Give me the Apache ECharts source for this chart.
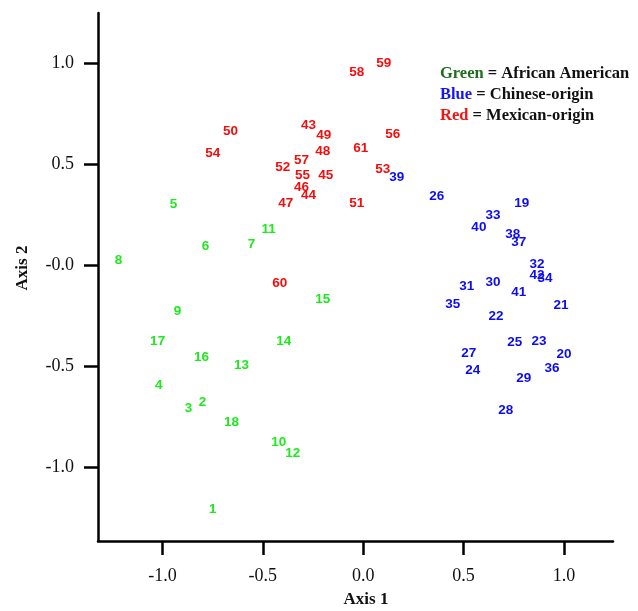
<!DOCTYPE html>
<html>
<head>
<meta charset="utf-8">
<script src="https://cdn.jsdelivr.net/npm/echarts@6/dist/echarts.min.js"></script>
<style>html,body{margin:0;padding:0;background:#fff}#c{width:638px;height:611px}</style>
</head>
<body>
<div id="c"></div>
<script>
// ---- data ----
const africanIds = [1,2,3,4,5,6,7,8,9,10,11,12,13,14,15,16,17,18];
const africanPoints = [
  [-0.750,-1.211],[-0.800,-0.679],[-0.870,-0.709],[-1.019,-0.595],[-0.945,0.300],
  [-0.785,0.096],[-0.556,0.106],[-1.219,0.026],[-0.925,-0.227],[-0.421,-0.878],
  [-0.471,0.180],[-0.351,-0.932],[-0.606,-0.495],[-0.396,-0.376],[-0.202,-0.167],
  [-0.805,-0.456],[-1.024,-0.376],[-0.656,-0.778]
];
const chineseIds = [19,20,21,22,23,24,25,26,27,28,29,30,31,32,33,34,35,36,37,38,39,40,41,42];
const chinesePoints = [
  [0.790,0.309],[1.000,-0.441],[0.985,-0.197],[0.661,-0.252],[0.875,-0.376],
  [0.546,-0.520],[0.755,-0.381],[0.366,0.344],[0.526,-0.436],[0.710,-0.719],
  [0.800,-0.560],[0.646,-0.083],[0.516,-0.103],[0.865,0.006],[0.646,0.250],
  [0.905,-0.063],[0.446,-0.192],[0.940,-0.510],[0.775,0.116],[0.745,0.155],
  [0.167,0.434],[0.576,0.190],[0.775,-0.133],[0.865,-0.048]
];
const mexicanIds = [43,44,45,46,47,48,49,50,51,52,53,54,55,56,57,58,59,60,61];
const mexicanPoints = [
  [-0.272,0.692],[-0.272,0.349],[-0.187,0.444],[-0.307,0.389],[-0.386,0.309],
  [-0.202,0.563],[-0.197,0.642],[-0.661,0.662],[-0.032,0.309],[-0.401,0.488],
  [0.097,0.478],[-0.750,0.553],[-0.302,0.444],[0.147,0.647],[-0.307,0.518],
  [-0.032,0.955],[0.102,1.000],[-0.416,-0.088],[-0.012,0.578]
];
const xTicks = [-1, -0.5, 0, 0.5, 1];
const xTickLabels = ['-1.0','-0.5','0.0','0.5','1.0'];
const yTicks = [-1, -0.5, 0, 0.5, 1];
const yTickLabels = ['-1.0','-0.5','-0.0','0.5','1.0'];

const GREEN = '#1ee81e', BLUE = '#0c0cf2', RED = '#f50c0c';

function series(name, ids, pts, color) {
  return {
    name, type: 'scatter', symbolSize: 1,
    itemStyle: { color: 'rgba(0,0,0,0)' },
    data: pts.map((p, i) => ({ value: p, name: String(ids[i]) })),
    label: {
      show: true, position: 'inside', formatter: '{b}', opacity: 1,
      color, fontFamily: 'Liberation Sans, Arial, sans-serif', fontSize: 13.5, fontWeight: 'bold',
      textBorderWidth: 0
    },
    emphasis: { disabled: true }, silent: true, animation: false
  };
}

const chart = echarts.init(document.getElementById('c'), null, { renderer: 'canvas' });
const serif = 'Liberation Serif, Times New Roman, serif';
chart.setOption({
  animation: false,
  grid: { left: 98, top: 13, right: 25, bottom: 70 },
  xAxis: {
    type: 'value', min: -1.321, max: 1.244,
    axisLine: { show: true, onZero: false, lineStyle: { color: '#000', width: 2.5 } },
    axisTick: { show: true, customValues: xTicks, length: 14, lineStyle: { color: '#000', width: 2.5 } },
    axisLabel: {
      customValues: xTicks, margin: 26,
      formatter: v => xTickLabels[xTicks.indexOf(v)] ?? '',
      fontFamily: serif, fontSize: 18, color: '#111'
    },
    splitLine: { show: false }
  },
  yAxis: {
    type: 'value', min: -1.368, max: 1.251,
    axisLine: { show: true, onZero: false, lineStyle: { color: '#000', width: 2.5 } },
    axisTick: { show: true, customValues: yTicks, length: 14, lineStyle: { color: '#000', width: 2.5 } },
    axisLabel: {
      customValues: yTicks, margin: 24,
      formatter: v => yTickLabels[yTicks.indexOf(v)] ?? '',
      fontFamily: serif, fontSize: 18, color: '#111'
    },
    splitLine: { show: false }
  },
  series: [
    series('African American', africanIds, africanPoints, GREEN),
    series('Chinese-origin', chineseIds, chinesePoints, BLUE),
    series('Mexican-origin', mexicanIds, mexicanPoints, RED)
  ],
  graphic: [
    { type: 'text', left: 440, top: 65, style: {
      text: '{g|Green} = African American', fontFamily: serif, fontSize: 16.5, fontWeight: 'bold', fill: '#111',
      rich: { g: { fill: '#1e6e1e', fontFamily: serif, fontSize: 16.5, fontWeight: 'bold' } } } },
    { type: 'text', left: 440, top: 86, style: {
      text: '{b|Blue} = Chinese-origin', fontFamily: serif, fontSize: 16.5, fontWeight: 'bold', fill: '#111',
      rich: { b: { fill: '#1515f5', fontFamily: serif, fontSize: 16.5, fontWeight: 'bold' } } } },
    { type: 'text', left: 440, top: 107, style: {
      text: '{r|Red} = Mexican-origin', fontFamily: serif, fontSize: 16.5, fontWeight: 'bold', fill: '#111',
      rich: { r: { fill: '#f51515', fontFamily: serif, fontSize: 16.5, fontWeight: 'bold' } } } },
    { type: 'text', x: 366, y: 600, style: {
      text: 'Axis 1', fontFamily: serif, fontSize: 17, fontWeight: 'bold', fill: '#111',
      align: 'center', verticalAlign: 'middle' } },
    { type: 'text', x: 23, y: 268, rotation: Math.PI / 2, style: {
      text: 'Axis 2', fontFamily: serif, fontSize: 17, fontWeight: 'bold', fill: '#111',
      align: 'center', verticalAlign: 'middle' } }
  ]
});
</script>
</body>
</html>
